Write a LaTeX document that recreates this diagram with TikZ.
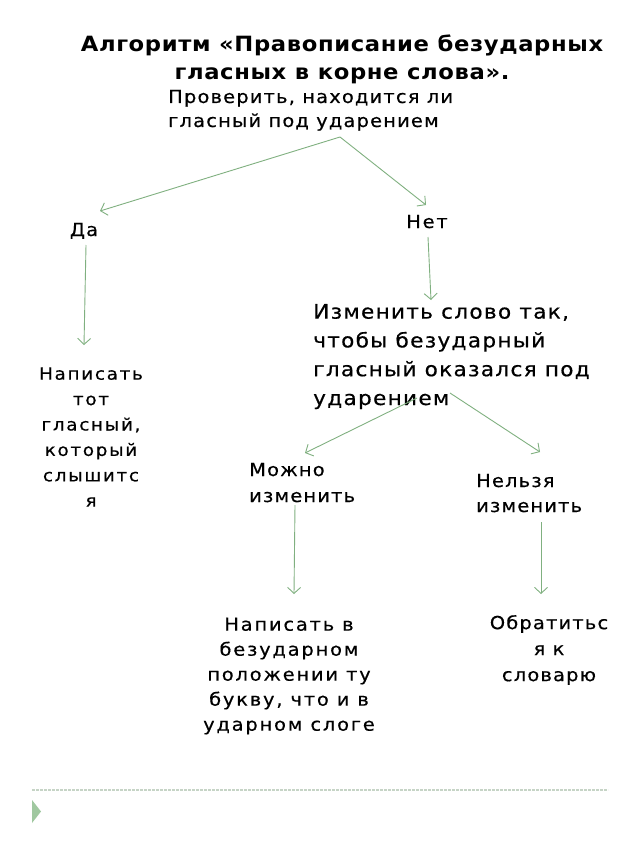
\documentclass[tikz,border=0pt]{standalone}
\usepackage{fontspec}
\setmainfont{DejaVu Sans}
\newfontfamily\tfont[LetterSpace=3,FakeStretch=1.08]{DejaVu Sans}
\newfontfamily\mfont[LetterSpace=6.5,FakeStretch=1.08,FakeBold=0.5]{DejaVu Sans}
\newfontfamily\wfont[LetterSpace=10,FakeStretch=1.08,FakeBold=0.5]{DejaVu Sans}
\usetikzlibrary{arrows.meta}
\definecolor{arr}{RGB}{128,176,128}
\definecolor{dashcol}{RGB}{198,212,198}
\definecolor{tri}{RGB}{160,200,160}
\tikzset{
  conn/.style={draw=arr, line width=0.9pt, -{Straight Barb[length=6pt,width=13pt,line width=0.9pt]}},
  txt/.style={inner sep=0pt, text=black},
}
\begin{document}
\begin{tikzpicture}[x=1pt,y=-1pt]
\useasboundingbox (0,0) rectangle (640,853);
\fill[white] (0,0) rectangle (640,853);
% title
\node[txt, align=center, font=\tfont\fontsize{21}{28}\selectfont\bfseries] (title) at (342,59)
  {Алгоритм «Правописание безударных\\гласных в корне слова».};
\node[txt, align=left, anchor=base west, font=\mfont\fontsize{18}{24}\selectfont] (q) at (168,127)
  {Проверить, находится ли\\гласный под ударением};
\node[txt, anchor=base, font=\mfont\fontsize{18}{20}\selectfont] (da) at (84,236) {Да};
\node[txt, anchor=base, font=\wfont\fontsize{18}{20}\selectfont] (net) at (427,228) {Нет};
\node[txt, align=left, anchor=base west, font=\mfont\fontsize{20}{28.8}\selectfont] (izm) at (313,405)
  {Изменить слово так,\\чтобы безударный\\гласный оказался под\\ударением};
\node[txt, align=center, font=\wfont\fontsize{17}{25.4}\selectfont] (napis) at (91,437)
  {Написать\\тот\\гласный,\\который\\слышитс\\я};
\node[txt, align=left, anchor=base west, font=\mfont\fontsize{18}{26}\selectfont] (mozh) at (249,502)
  {Можно\\изменить};
\node[txt, align=left, anchor=base west, font=\mfont\fontsize{18}{25}\selectfont] (nelz) at (476,512)
  {Нельзя\\изменить};
\node[txt, align=center, font=\wfont\fontsize{18}{25}\selectfont] (nap2) at (289,676)
  {Написать в\\безударном\\положении ту\\букву, что и в\\ударном слоге};
\node[txt, align=center, font=\mfont\fontsize{18}{26}\selectfont] (obr) at (549,650)
  {Обратитьс\\я к\\словарю};
% connector end points
\coordinate (q1) at (340,137);
\coordinate (da0) at (100,211);
\coordinate (net0) at (426,205);
\coordinate (da1) at (86,245);
\coordinate (napis0) at (84,345);
\coordinate (net1) at (428,237);
\coordinate (izm0) at (431,300);
\coordinate (izmL) at (417,398);
\coordinate (izmR) at (450,393);
\coordinate (mozh0) at (305,453);
\coordinate (nelz0) at (540,452);
\coordinate (mozh1) at (295,505);
\coordinate (nap20) at (294,594);
\coordinate (nelz1) at (541,522);
\coordinate (obr0) at (541,594);
\draw[conn] (q1) -- (da0);
\draw[conn] (q1) -- (net0);
\draw[conn] (da1) -- (napis0);
\draw[conn] (net1) -- (izm0);
\draw[conn] (izmL) -- (mozh0);
\draw[conn] (izmR) -- (nelz0);
\draw[conn] (mozh1) -- (nap20);
\draw[conn] (nelz1) -- (obr0);
% footer
\coordinate (f0) at (32,790);
\coordinate (f1) at (608,790);
\draw[dashcol, line width=1.3pt, dash pattern=on 2.7pt off 1.3pt] (f0) -- (f1);
\fill[tri] (32,800) -- (41,811.5) -- (32,823) -- cycle;
\end{tikzpicture}
\end{document}
